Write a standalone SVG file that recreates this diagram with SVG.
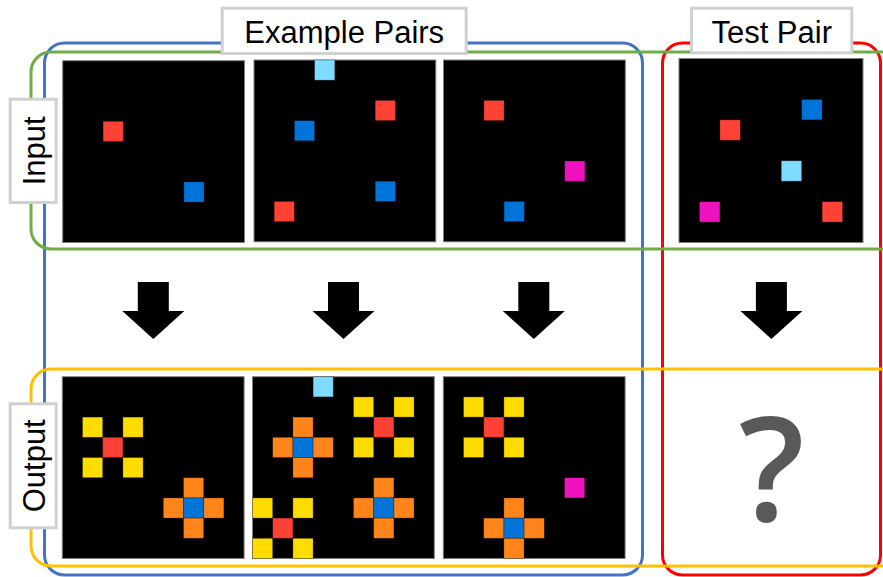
<svg xmlns="http://www.w3.org/2000/svg" width="883" height="577" viewBox="0 0 883 577">
<style>
.frame{fill:none;stroke-width:3}
.lbl{fill:#fff;stroke:#d0d0d0;stroke-width:3}
.lt{font-family:"Liberation Sans",Arial,sans-serif;font-size:31px;fill:#000;text-anchor:middle}
.bg{fill:#000;stroke:#7f7f7f;stroke-width:1}
.c{stroke:#000;stroke-opacity:.35;stroke-width:.8;width:20.2px;height:20.2px}
.t{stroke:#000;stroke-opacity:.35;stroke-width:.8;width:20.45px;height:20.45px}
.r{fill:#FF4136}.b{fill:#0074D9}.lb{fill:#7FDBFF}.m{fill:#F012BE}.y{fill:#FFDC00}.o{fill:#FF851B}
.arr{fill:#000}
</style>
<defs>
<polygon id="arrow" points="-15.5,0 15.5,0 15.5,29 31,29 0,57 -31,29 -15.5,29"/>
</defs>
<g id="frames">
<rect id="example-frame" class="frame" x="44.5" y="43" width="598" height="532" rx="20" stroke="#4472C4"/>
<rect id="test-frame" class="frame" x="662.5" y="43" width="218" height="532" rx="20" stroke="#FF0000"/>
<rect id="input-row" class="frame" x="31" y="52" width="870" height="197" rx="20" stroke="#70AD47"/>
<rect id="output-row" class="frame" x="31" y="369" width="870" height="197" rx="20" stroke="#FFC000"/>
</g>
<g id="connectors" class="arr">
<use href="#arrow" x="153.3" y="282"/>
<use href="#arrow" x="343.5" y="282"/>
<use href="#arrow" x="533.8" y="282"/>
<use href="#arrow" x="771.4" y="282"/>
</g>
<g id="input1" transform="translate(62.7,60.7)">
<rect class="bg" width="181.8" height="181.8"/>
<rect class="c r" x="40.4" y="60.6"/><rect class="c b" x="121.2" y="121.2"/>
</g>
<g id="input2" transform="translate(254,60)">
<rect class="bg" width="181.8" height="181.8"/>
<rect class="c lb" x="60.6" y="0"/><rect class="c r" x="121.2" y="40.4"/><rect class="c b" x="40.4" y="60.6"/><rect class="c b" x="121.2" y="121.2"/><rect class="c r" x="20.2" y="141.4"/>
</g>
<g id="input3" transform="translate(443.5,60)">
<rect class="bg" width="181.8" height="181.8"/>
<rect class="c r" x="40.4" y="40.4"/><rect class="c m" x="121.2" y="101"/><rect class="c b" x="60.6" y="141.4"/>
</g>
<g id="test-input" transform="translate(679,58.5)">
<rect class="bg" width="184" height="184"/>
<rect class="t b" x="122.7" y="40.9"/><rect class="t r" x="40.9" y="61.35"/><rect class="t lb" x="102.25" y="102.25"/><rect class="t m" x="20.45" y="143.15"/><rect class="t r" x="143.15" y="143.15"/>
</g>
<g id="output1" transform="translate(62.3,376.7)">
<rect class="bg" width="181.8" height="181.8"/>
<rect class="c y" x="20.2" y="40.4"/><rect class="c y" x="60.6" y="40.4"/><rect class="c r" x="40.4" y="60.6"/><rect class="c y" x="20.2" y="80.8"/><rect class="c y" x="60.6" y="80.8"/>
<rect class="c o" x="121.2" y="101"/><rect class="c o" x="101" y="121.2"/><rect class="c b" x="121.2" y="121.2"/><rect class="c o" x="141.4" y="121.2"/><rect class="c o" x="121.2" y="141.4"/>
</g>
<g id="output2" transform="translate(252.5,376.7)">
<rect class="bg" width="181.8" height="181.8"/>
<rect class="c lb" x="60.6" y="0"/>
<rect class="c y" x="101" y="20.2"/><rect class="c y" x="141.4" y="20.2"/><rect class="c r" x="121.2" y="40.4"/><rect class="c y" x="101" y="60.6"/><rect class="c y" x="141.4" y="60.6"/>
<rect class="c o" x="40.4" y="40.4"/><rect class="c o" x="20.2" y="60.6"/><rect class="c b" x="40.4" y="60.6"/><rect class="c o" x="60.6" y="60.6"/><rect class="c o" x="40.4" y="80.8"/>
<rect class="c o" x="121.2" y="101"/><rect class="c o" x="101" y="121.2"/><rect class="c b" x="121.2" y="121.2"/><rect class="c o" x="141.4" y="121.2"/><rect class="c o" x="121.2" y="141.4"/>
<rect class="c y" x="0" y="121.2"/><rect class="c y" x="40.4" y="121.2"/><rect class="c r" x="20.2" y="141.4"/><rect class="c y" x="0" y="161.6"/><rect class="c y" x="40.4" y="161.6"/>
</g>
<g id="output3" transform="translate(443.3,376.7)">
<rect class="bg" width="181.8" height="181.8"/>
<rect class="c y" x="20.2" y="20.2"/><rect class="c y" x="60.6" y="20.2"/><rect class="c r" x="40.4" y="40.4"/><rect class="c y" x="20.2" y="60.6"/><rect class="c y" x="60.6" y="60.6"/>
<rect class="c m" x="121.2" y="101"/>
<rect class="c o" x="60.6" y="121.2"/><rect class="c o" x="40.4" y="141.4"/><rect class="c b" x="60.6" y="141.4"/><rect class="c o" x="80.8" y="141.4"/><rect class="c o" x="60.6" y="161.6"/>
</g>
<g id="test-output">
<text x="771.7" y="520.7" font-family="'Open Sans','Noto Sans',sans-serif" font-weight="600" font-size="145" fill="#595959" text-anchor="middle">?</text>
</g>
<g id="label-example">
<rect class="lbl" x="222.2" y="8.2" width="244" height="45.3"/>
<text class="lt" x="344.2" y="42.5">Example Pairs</text>
</g>
<g id="label-test">
<rect class="lbl" x="691.5" y="8.2" width="160.3" height="44.6"/>
<text class="lt" x="771.7" y="42.5">Test Pair</text>
</g>
<g id="label-input">
<rect class="lbl" x="10.2" y="99.2" width="46" height="103.3"/>
<text class="lt" transform="translate(33.2,150.8) rotate(-90)" y="11.6">Input</text>
</g>
<g id="label-output">
<rect class="lbl" x="10.2" y="403.8" width="46" height="124"/>
<text class="lt" transform="translate(33.2,465.8) rotate(-90)" y="11.6">Output</text>
</g>
</svg>
